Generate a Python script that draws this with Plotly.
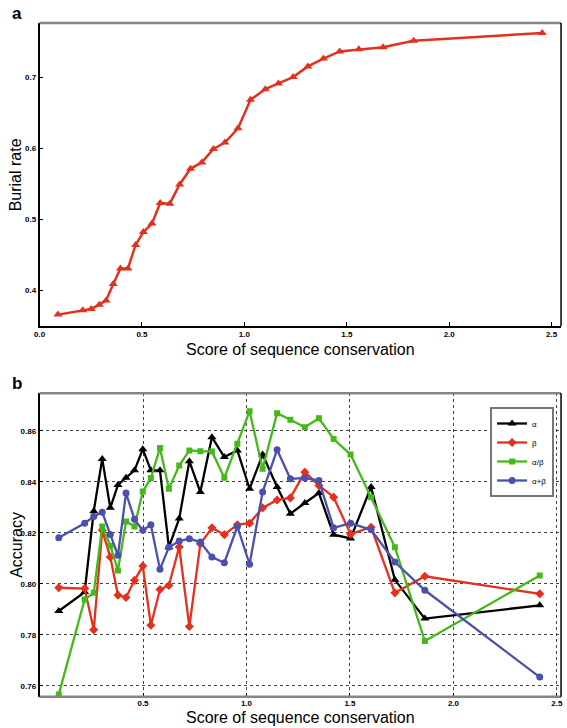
import plotly.graph_objects as go

# ---------------- Panel a data ----------------
score_a = [0.090, 0.211, 0.252, 0.292, 0.325, 0.360, 0.395, 0.432, 0.469, 0.507,
           0.549, 0.589, 0.636, 0.684, 0.737, 0.792, 0.849, 0.905, 0.969, 1.030,
           1.102, 1.166, 1.238, 1.310, 1.386, 1.465, 1.559, 1.677, 1.826, 2.454]
burial_rate = [0.366, 0.372, 0.374, 0.380, 0.386, 0.409, 0.431, 0.431, 0.464, 0.482,
               0.494, 0.523, 0.522, 0.549, 0.571, 0.580, 0.599, 0.608, 0.628, 0.668,
               0.683, 0.691, 0.700, 0.715, 0.726, 0.736, 0.739, 0.742, 0.751, 0.762]

# ---------------- Panel b data ----------------
score_b = [0.093, 0.218, 0.262, 0.303, 0.342, 0.379, 0.418, 0.459, 0.499, 0.538,
           0.582, 0.625, 0.675, 0.724, 0.777, 0.833, 0.893, 0.956, 1.015, 1.078,
           1.148, 1.212, 1.282, 1.350, 1.421, 1.503, 1.602, 1.717, 1.862, 2.417]
acc_alpha = [0.7894, 0.7968, 0.8285, 0.8490, 0.8298, 0.8388, 0.8416, 0.8445, 0.8528, 0.8445,
             0.8445, 0.8144, 0.8256, 0.8481, 0.8360, 0.8575, 0.8497, 0.8523, 0.8373, 0.8507,
             0.8380, 0.8275, 0.8317, 0.8356, 0.8193, 0.8178, 0.8380, 0.8016, 0.7864, 0.7916]
acc_beta = [0.7985, 0.7982, 0.7820, 0.8210, 0.8105, 0.7956, 0.7947, 0.8014, 0.8070, 0.7838,
            0.7978, 0.7994, 0.8145, 0.7833, 0.8157, 0.8220, 0.8193, 0.8232, 0.8238, 0.8298,
            0.8329, 0.8337, 0.8438, 0.8386, 0.8340, 0.8195, 0.8222, 0.7965, 0.8030, 0.7961]
acc_ab = [0.7567, 0.7939, 0.7965, 0.8225, 0.8150, 0.8053, 0.8245, 0.8225, 0.8362, 0.8415,
          0.8533, 0.8373, 0.8464, 0.8523, 0.8520, 0.8519, 0.8416, 0.8549, 0.8677, 0.8451,
          0.8669, 0.8643, 0.8614, 0.8649, 0.8568, 0.8507, 0.8340, 0.8144, 0.7776, 0.8033]
acc_apb = [0.8181, 0.8238, 0.8264, 0.8281, 0.8194, 0.8112, 0.8356, 0.8253, 0.8210, 0.8232,
           0.8057, 0.8144, 0.8168, 0.8177, 0.8164, 0.8105, 0.8083, 0.8225, 0.8077, 0.8360,
           0.8526, 0.8412, 0.8415, 0.8405, 0.8220, 0.8238, 0.8212, 0.8086, 0.7975, 0.7635]

series_names = ["α", "β", "α/β", "α+β"]
series_values = [acc_alpha, acc_beta, acc_ab, acc_apb]
series_colors = ["#000000", "#e2311d", "#45b81a", "#4b4fae"]
series_symbols = ["triangle-up", "diamond", "square", "circle"]
series_sizes = [8, 7, 6, 7]

ticks_a_x = [0.0, 0.5, 1.0, 1.5, 2.0, 2.5]
ticks_a_y = [0.4, 0.5, 0.6, 0.7]
ticks_b_x = [0.5, 1.0, 1.5, 2.0, 2.5]
ticks_b_y = [0.76, 0.78, 0.80, 0.82, 0.84, 0.86]

FONT = "Liberation Sans, Arial, Helvetica, sans-serif"
W, H = 567, 728

fig = go.Figure()

fig.add_trace(go.Scatter(
    x=score_a, y=burial_rate, mode="lines+markers", xaxis="x", yaxis="y",
    line=dict(color="#e2311d", width=2.5),
    marker=dict(symbol="triangle-up", size=8, color="#e2311d"),
    showlegend=False))

for name, vals, col, sym, sz in zip(series_names, series_values, series_colors,
                                    series_symbols, series_sizes):
    fig.add_trace(go.Scatter(
        x=score_b, y=vals, mode="lines+markers", name=name, xaxis="x2", yaxis="y2",
        line=dict(color=col, width=2.3),
        marker=dict(symbol=sym, size=sz, color=col)))

dom_x = [34 / W, 563 / W]
dom_ya = [1 - 326 / H, 1 - 23 / H]
dom_yb = [1 - 696.7 / H, 1 - 393.3 / H]

tickfont = dict(family=FONT, size=8, color="black", weight="bold")
common = dict(ticks="inside", ticklen=4, tickcolor="black", tickwidth=1,
              tickfont=tickfont, zeroline=False, showline=True, linecolor="black",
              linewidth=1.5, mirror=False)
grid = dict(showgrid=True, gridcolor="#444444", gridwidth=1, griddash="dot")

fig.update_layout(
    width=W, height=H,
    margin=dict(l=0, r=0, t=0, b=0),
    paper_bgcolor="white", plot_bgcolor="white",
    font=dict(family=FONT, color="black"),
    xaxis=dict(domain=dom_x, anchor="y", range=[0, 2.546], tickvals=ticks_a_x,
               tickformat=".1f", showgrid=False, **common),
    yaxis=dict(domain=dom_ya, anchor="x", range=[0.350, 0.776], tickvals=ticks_a_y,
               tickformat=".1f", showgrid=False, **common),
    xaxis2=dict(domain=dom_x, anchor="y2", range=[0, 2.52], tickvals=ticks_b_x,
                tickformat=".1f", **grid, **{**common, "showline": False}),
    yaxis2=dict(domain=dom_yb, anchor="x2", range=[0.7558, 0.8747], tickvals=ticks_b_y,
                tickformat=".2f", **grid, **common),
    legend=dict(x=491 / W, y=1 - 407 / H, xanchor="left", yanchor="top",
                bgcolor="white", bordercolor="#777777", borderwidth=2,
                font=dict(family=FONT, size=8, color="black"),
                itemwidth=30, tracegroupgap=0),
)

shapes = []
# panel a borders: top gray, right black
shapes.append(dict(type="line", xref="x domain", yref="y domain", x0=0, x1=1, y0=1, y1=1,
                   line=dict(color="#858585", width=2.5)))
shapes.append(dict(type="line", xref="x domain", yref="y domain", x0=1, x1=1, y0=0, y1=1,
                   line=dict(color="black", width=1.5)))
# panel b borders: top & bottom gray, right black
shapes.append(dict(type="line", xref="x2 domain", yref="y2 domain", x0=0, x1=1, y0=1, y1=1,
                   line=dict(color="#858585", width=2.5)))
shapes.append(dict(type="line", xref="x2 domain", yref="y2 domain", x0=0, x1=1, y0=0, y1=0,
                   line=dict(color="#858585", width=2.5)))
shapes.append(dict(type="line", xref="x2 domain", yref="y2 domain", x0=1, x1=1, y0=0, y1=1,
                   line=dict(color="black", width=1.5)))
fig.update_layout(shapes=shapes)

ann = []
ann.append(dict(text="<b>a</b>", x=4 / W, y=1 - 2 / H, xref="paper", yref="paper",
                xanchor="left", yanchor="top", showarrow=False,
                font=dict(family=FONT, size=17, color="black")))
ann.append(dict(text="<b>b</b>", x=4 / W, y=1 - 372 / H, xref="paper", yref="paper",
                xanchor="left", yanchor="top", showarrow=False,
                font=dict(family=FONT, size=17, color="black")))
ann.append(dict(text="Score of sequence conservation", x=0.5, xref="x domain",
                y=1 - 349 / H, yref="paper", xanchor="center", yanchor="middle",
                showarrow=False, font=dict(family=FONT, size=16, color="black")))
ann.append(dict(text="Score of sequence conservation", x=0.5, xref="x2 domain",
                y=1 - 717 / H, yref="paper", xanchor="center", yanchor="middle",
                showarrow=False, font=dict(family=FONT, size=16, color="black")))
ann.append(dict(text="Burial rate", x=10 / W, xref="paper", y=0.5, yref="y domain",
                xanchor="center", yanchor="middle", textangle=-90, showarrow=False,
                font=dict(family=FONT, size=16, color="black")))
ann.append(dict(text="Accuracy", x=10 / W, xref="paper", y=0.5, yref="y2 domain",
                xanchor="center", yanchor="middle", textangle=-90, showarrow=False,
                font=dict(family=FONT, size=16, color="black")))
fig.update_layout(annotations=ann)

fig.write_html(
    "out.html",
    config={"displayModeBar": False},
    post_script="document.body.style.margin='0px';"
                "document.body.style.overflow='hidden';",
)
